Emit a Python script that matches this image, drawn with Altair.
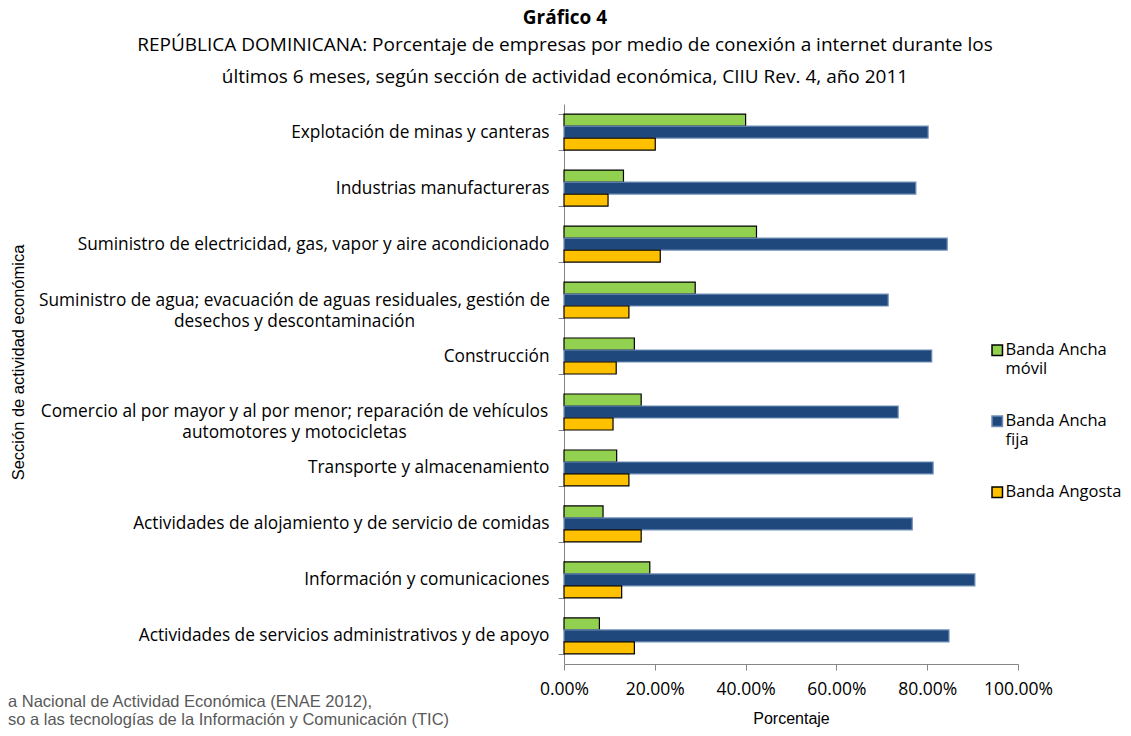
import altair as alt
import pandas as pd

categorias = [
    "Explotación de minas y canteras",
    "Industrias manufactureras",
    "Suministro de electricidad, gas, vapor y aire acondicionado",
    "Suministro de agua; evacuación de aguas residuales, gestión de desechos y descontaminación",
    "Construcción",
    "Comercio al por mayor y al por menor; reparación de vehículos automotores y motocicletas",
    "Transporte y almacenamiento",
    "Actividades de alojamiento y de servicio de comidas",
    "Información y comunicaciones",
    "Actividades de servicios administrativos y de apoyo",
]
series = ["Banda Ancha móvil", "Banda Ancha fija", "Banda Angosta"]
movil = [40.0, 13.1, 42.4, 28.9, 15.5, 17.0, 11.6, 8.6, 18.9, 7.8]
fija = [80.2, 77.5, 84.4, 71.4, 81.0, 73.6, 81.3, 76.7, 90.5, 84.8]
angosta = [20.1, 9.7, 21.2, 14.3, 11.5, 10.8, 14.3, 17.0, 12.7, 15.5]
colores = ["#92D050", "#1F497D", "#FFC000"]
bordes = ["#000000", "#6F8DB5", "#000000"]

envolver = {
    "Suministro de agua; evacuación de aguas residuales, gestión de desechos y descontaminación":
        ["Suministro de agua; evacuación de aguas residuales, gestión de", "desechos y descontaminación"],
    "Comercio al por mayor y al por menor; reparación de vehículos automotores y motocicletas":
        ["Comercio al por mayor y al por menor; reparación de vehículos", "automotores y motocicletas"],
}
titulo = "Gráfico 4"
subtitulo = [
    "REPÚBLICA DOMINICANA: Porcentaje de empresas por medio de conexión a internet durante los",
    "últimos 6 meses, según sección de actividad económica, CIIU Rev. 4, año 2011",
]
fuente = [
    "a Nacional de Actividad Económica (ENAE 2012),",
    "so a las tecnologías de la Información y Comunicación (TIC)",
]

FONT = "Open Sans"
FONT2 = "Liberation Sans"

rows = []
for i, c in enumerate(categorias):
    for s, vals in zip(series, [movil, fija, angosta]):
        rows.append({"categoria": c, "serie": s, "valor": vals[i]})
df = pd.DataFrame(rows)

parts = [f"datum.label == '{k}' ? ['{v[0]}', '{v[1]}']" for k, v in envolver.items()]
label_expr = " : ".join(parts) + " : datum.label"
wrap_test = " || ".join(f"datum.value == '{k}'" for k in envolver)

legend_expr = ("datum.label == 'Banda Angosta' ? datum.label : "
               "[slice(datum.label, 0, 11), slice(datum.label, 12)]")

leg = dict(title=None, orient="none", legendX=425, legendY=238,
           symbolType="square", symbolSize=110, symbolStrokeWidth=1.5,
           labelFontSize=16.5, labelExpr=legend_expr, rowPadding=35,
           labelLimit=300, labelOffset=0)

bars = alt.Chart(df).mark_bar(strokeWidth=1.2).encode(
    x=alt.X("valor:Q", scale=alt.Scale(domain=[0, 100], nice=False),
            axis=alt.Axis(values=[0, 20, 40, 60, 80, 100], labelFlush=False,
                          labelExpr="format(datum.value / 100, '.2%')",
                          title="Porcentaje", grid=False, tickSize=6,
                          tickColor="#868686", domainColor="#868686",
                          labelFontSize=17.5, labelPadding=10, titlePadding=13,
                          titleFontSize=16, titleFont=FONT2, titleFontWeight="normal")),
    y=alt.Y("categoria:N", sort=categorias,
            scale=alt.Scale(paddingInner=0.357, paddingOuter=0.18),
            axis=alt.Axis(title="Sección de actividad económica", labelExpr=label_expr,
                          labelAlign={"condition": {"test": wrap_test, "value": "center"}, "value": "right"},
                          labelPadding={"condition": {"test": wrap_test, "value": 264}, "value": 9},
                          tickBand="extent", tickSize=6, tickColor="#868686",
                          domainColor="#868686", labelFontSize=17.3,
                          labelLimit=700, labelLineHeight=21, titleFontSize=16.5,
                          titleFont=FONT2, titleFontWeight="normal",
                          titleX=-538, titleY=258)),
    yOffset=alt.YOffset("serie:N", sort=series, scale=alt.Scale(domain=series)),
    fill=alt.Fill("serie:N", sort=series,
                  scale=alt.Scale(domain=series, range=colores),
                  legend=alt.Legend(**leg)),
    stroke=alt.Stroke("serie:N", sort=series,
                      scale=alt.Scale(domain=series, range=bordes),
                      legend=alt.Legend(**leg)),
)

src = alt.Chart(pd.DataFrame({"t": [fuente]})).mark_text(
    align="left", baseline="middle", fontSize=16.5, color="#595959", lineHeight=18, font=FONT2
).encode(x=alt.value(-556), y=alt.value(598), text="t")

chart = alt.layer(bars, src).properties(
    width=454, height=560,
    autosize=alt.AutoSizeParams(type="none"),
    padding={"left": 556, "top": 96, "right": 105, "bottom": 64},
    title=alt.TitleParams(text=titulo, subtitle=subtitulo, anchor="middle", frame="bounds",
                          fontSize=19, fontWeight="bold", font=FONT, color="black",
                          subtitleFontSize=19, subtitleColor="black", subtitleFont=FONT,
                          subtitleLineHeight=32, subtitlePadding=8, offset=8),
).configure(font=FONT).configure_view(stroke=None).configure_axis(
    labelColor="black", titleColor="black", labelFont=FONT
).configure_legend(labelColor="black", labelFont=FONT)

chart.save("out.html", embed_options={"renderer": "svg", "actions": False})
